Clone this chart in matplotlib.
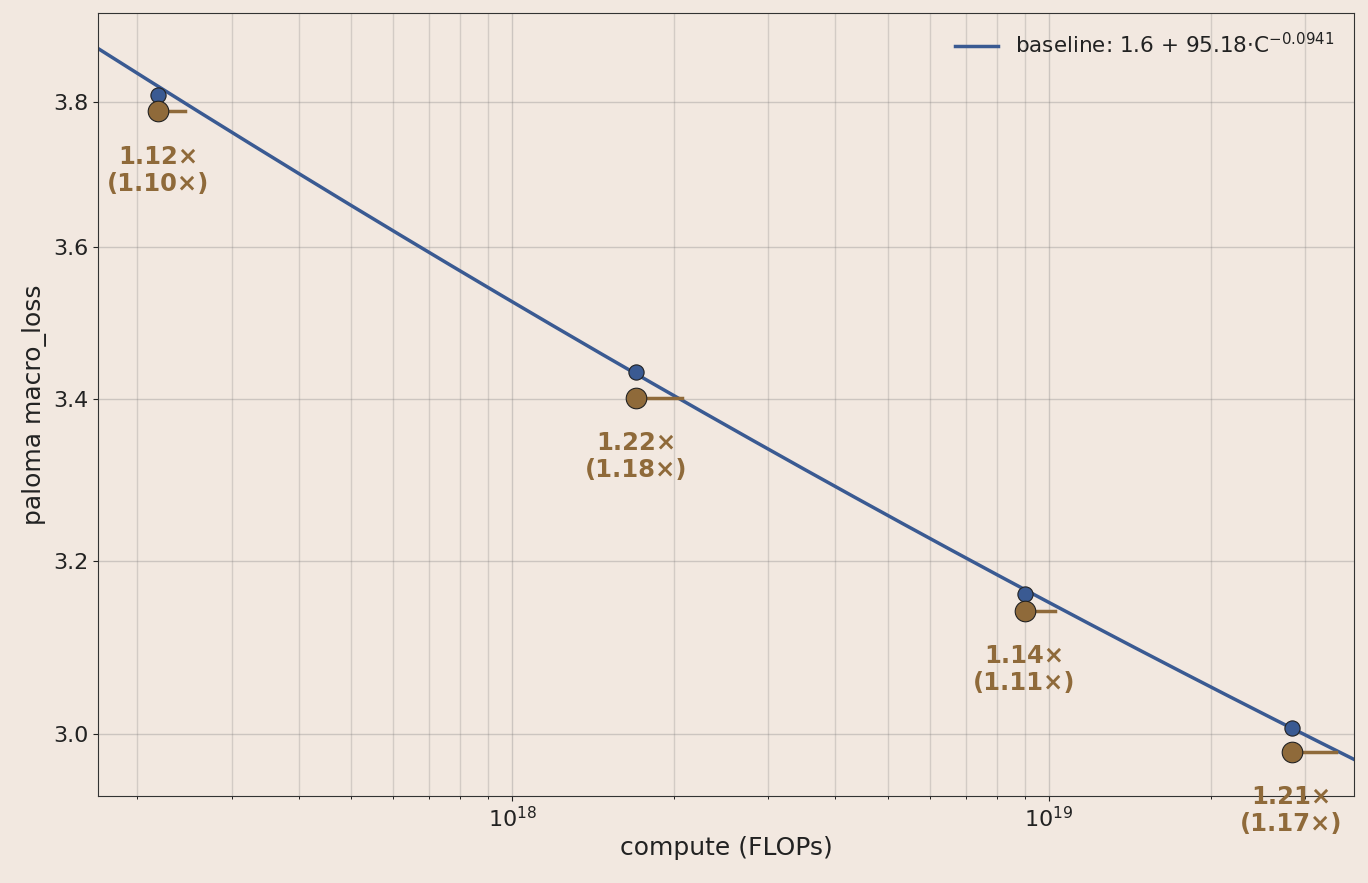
import matplotlib
matplotlib.use("Agg")
import matplotlib.pyplot as plt
import numpy as np
from matplotlib.ticker import FixedLocator, FixedFormatter, NullLocator

compute = [2.19e17, 1.70e18, 9.0e18, 2.83e19]
baseline_loss = [3.810, 3.435, 3.161, 3.006]
variant_loss = [3.787, 3.402, 3.141, 2.980]
mult = [1.12, 1.22, 1.14, 1.21]
mult2 = [1.10, 1.18, 1.11, 1.17]
fit_a, fit_b, fit_c = 1.6, 95.18, 0.0941

bg = "#F2E8E0"
blue = "#3A5A92"
brown = "#8F6A3A"

fig = plt.figure(figsize=(13.68, 8.83), dpi=100, facecolor=bg)
ax = fig.add_axes([98/1368, 1-796/883, (1354-98)/1368, (796-13)/883], facecolor=bg)
ax.set_xscale("log")
ax.set_yscale("log")
xmin, xmax = 1.69e17, 3.7e19
ax.set_xlim(xmin, xmax)
ax.set_ylim(2.931, 3.929)

xs = np.logspace(np.log10(xmin), np.log10(xmax), 300)
ax.plot(xs, fit_a + fit_b * xs ** (-fit_c), color=blue, lw=2.5,
        label=r"baseline: 1.6 + 95.18$\cdot$C$^{-0.0941}$", zorder=2)

for c, bl, vl, m, m2 in zip(compute, baseline_loss, variant_loss, mult, mult2):
    ax.plot([c, c * m], [vl, vl], color=brown, lw=2.5, zorder=3)
    ax.scatter([c], [bl], s=120, color=blue, edgecolor="#222222", lw=0.8, zorder=4)
    ax.scatter([c], [vl], s=220, color=brown, edgecolor="#222222", lw=0.8, zorder=5)
    ax.annotate(f"{m:.2f}×\n({m2:.2f}×)", (c, vl), xytext=(0, -24), textcoords="offset points",
                ha="center", va="top", color=brown, fontsize=17.5, fontweight="bold", linespacing=1.15)

ax.yaxis.set_major_locator(FixedLocator([3.0, 3.2, 3.4, 3.6, 3.8]))
ax.yaxis.set_major_formatter(FixedFormatter(["3.0", "3.2", "3.4", "3.6", "3.8"]))
ax.yaxis.set_minor_locator(NullLocator())
ax.grid(True, which="major", color="#777777", alpha=0.3, lw=1)
ax.grid(True, which="minor", axis="x", color="#777777", alpha=0.25, lw=1)
ax.tick_params(labelsize=16, colors="#222222")
for s in ax.spines.values():
    s.set_color("#333333")
ax.set_xlabel("compute (FLOPs)", fontsize=18, color="#222222")
ax.set_ylabel("paloma macro_loss", fontsize=18, color="#222222")
leg = ax.legend(loc="upper right", frameon=False, fontsize=15.5)
for t in leg.get_texts():
    t.set_color("#222222")
fig.savefig("out.png", dpi=100, facecolor=bg)
